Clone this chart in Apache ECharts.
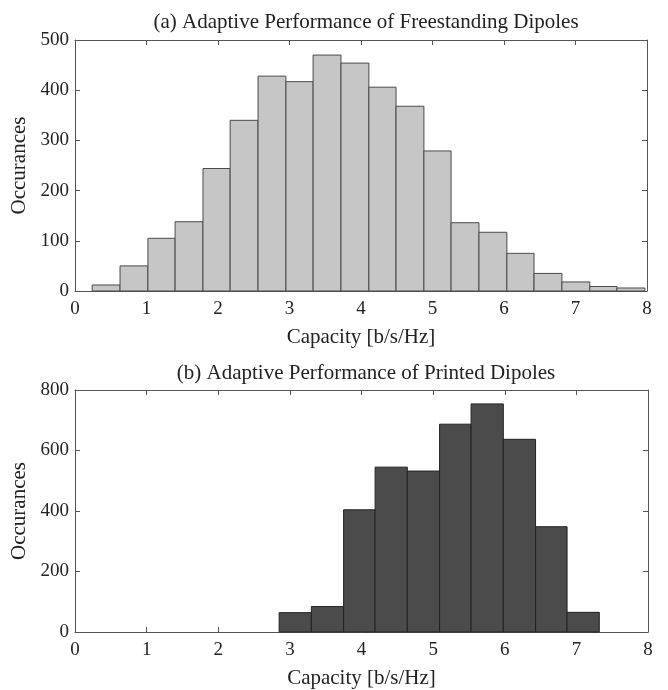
<!DOCTYPE html>
<html>
<head>
<meta charset="utf-8">
<script src="https://cdn.jsdelivr.net/npm/echarts@6/dist/echarts.min.js"></script>
<style>
  html, body { margin: 0; padding: 0; background: #fff; }
  #main { width: 668px; height: 690px; }
</style>
</head>
<body>
<div id="main"></div>
<script>
// bin edges and counts
var freeEdges = [0.24, 0.63, 1.02, 1.40, 1.79, 2.17, 2.56, 2.95, 3.33, 3.72, 4.11,
                 4.49, 4.88, 5.26, 5.65, 6.04, 6.42, 6.81, 7.20, 7.58, 7.97];
var freeCounts = [12, 50, 105, 138, 244, 340, 428, 417, 470, 454,
                  406, 368, 279, 136, 117, 75, 35, 18, 9, 6];

var printEdges = [2.85, 3.30, 3.75, 4.19, 4.64, 5.09, 5.53, 5.98, 6.43, 6.87, 7.32];
var printCounts = [64, 84, 404, 545, 532, 687, 754, 637, 348, 65];

var FONT = 'Liberation Serif';
var txt = '#222';
var axisCol = '#555';

function binData(edges, counts) {
    var out = [];
    for (var i = 0; i < counts.length; i++) {
        out.push([edges[i], edges[i + 1], counts[i]]);
    }
    return out;
}

function histSeries(idx, data, fill, stroke) {
    return {
        type: 'custom',
        xAxisIndex: idx * 2,
        yAxisIndex: idx * 2,
        data: data,
        encode: { x: [0, 1], y: 2 },
        renderItem: function (params, api) {
            var p0 = api.coord([api.value(0), api.value(2)]);
            var p1 = api.coord([api.value(1), 0]);
            return {
                type: 'rect',
                shape: { x: p0[0], y: p0[1], width: p1[0] - p0[0], height: p1[1] - p0[1] },
                style: { fill: fill, stroke: stroke, lineWidth: 1 }
            };
        }
    };
}

var tickStyle = { show: true, inside: true, length: 5, lineStyle: { color: axisCol } };
var lineStyle = { show: true, onZero: false, lineStyle: { color: axisCol, width: 1 } };

function xAxes(grid) {
    return [
        {
            gridIndex: grid, type: 'value', min: 0, max: 8, interval: 1,
            name: 'Capacity [b/s/Hz]', nameLocation: 'middle', nameGap: 36,
            nameTextStyle: { fontFamily: FONT, fontSize: 21, color: txt },
            axisLine: lineStyle, axisTick: tickStyle,
            axisLabel: { fontFamily: FONT, fontSize: 19, color: txt, margin: 9 },
            splitLine: { show: false }
        },
        {
            gridIndex: grid, type: 'value', min: 0, max: 8, interval: 1, position: 'top',
            axisLine: lineStyle, axisTick: tickStyle,
            axisLabel: { show: false },
            splitLine: { show: false }
        }
    ];
}

function yAxes(grid, max, step) {
    return [
        {
            gridIndex: grid, type: 'value', min: 0, max: max, interval: step,
            name: 'Occurances', nameLocation: 'middle', nameGap: 40, nameRotate: 90,
            nameTextStyle: { fontFamily: FONT, fontSize: 21, color: txt },
            axisLine: lineStyle, axisTick: tickStyle,
            axisLabel: { fontFamily: FONT, fontSize: 19, color: txt, margin: 6 },
            splitLine: { show: false }
        },
        {
            gridIndex: grid, type: 'value', min: 0, max: max, interval: step, position: 'right',
            axisLine: lineStyle, axisTick: tickStyle,
            axisLabel: { show: false },
            splitLine: { show: false }
        }
    ];
}

var myChart = echarts.init(document.getElementById('main'));
var option = {
    backgroundColor: '#fff',
    animation: false,
    title: [
        {
            text: '(a) Adaptive Performance of Freestanding Dipoles',
            left: 361, top: 7, textAlign: 'center',
            textStyle: { fontFamily: FONT, fontSize: 21, fontWeight: 'normal', color: txt }
        },
        {
            text: '(b) Adaptive Performance of Printed Dipoles',
            left: 361, top: 358, textAlign: 'center',
            textStyle: { fontFamily: FONT, fontSize: 21, fontWeight: 'normal', color: txt }
        }
    ],
    grid: [
        { left: 75, right: 21, top: 40, height: 251 },
        { left: 75, right: 20, top: 390, height: 250 }
    ],
    xAxis: xAxes(0).concat(xAxes(1)),
    yAxis: yAxes(0, 500, 100).concat(yAxes(1, 800, 200)),
    series: [
        histSeries(0, binData(freeEdges, freeCounts), '#c6c6c6', '#4a4a4a'),
        histSeries(1, binData(printEdges, printCounts), '#4b4b4b', '#222')
    ]
};
option && myChart.setOption(option);
window.addEventListener('resize', function () { myChart.resize(); });
</script>
</body>
</html>
